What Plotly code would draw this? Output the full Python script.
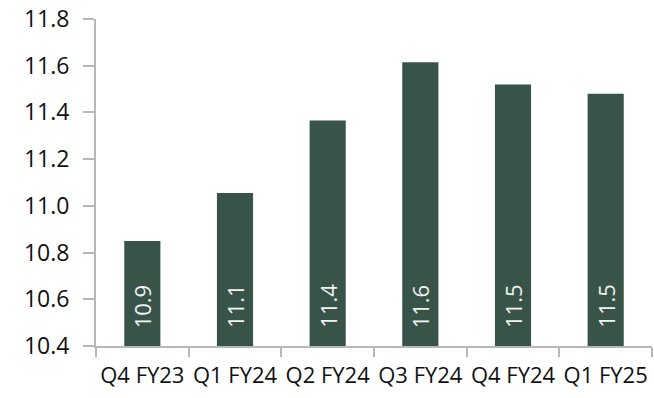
import plotly.graph_objects as go

categories = ["Q4 FY23", "Q1 FY24", "Q2 FY24", "Q3 FY24", "Q4 FY24", "Q1 FY25"]
values = [10.85, 11.055, 11.365, 11.615, 11.52, 11.48]
labels = ["10.9", "11.1", "11.4", "11.6", "11.5", "11.5"]

BAR = "#385448"
AXIS = "#B7B7B7"
TXT = "#111111"
FONT = "Open Sans"

fig = go.Figure()
fig.add_trace(go.Bar(x=categories, y=values, marker=dict(color=BAR, line=dict(width=0)),
                     hoverinfo="skip"))

for c, l in zip(categories, labels):
    fig.add_annotation(x=c, y=10.4, xref="x", yref="y", text=l, showarrow=False,
                       textangle=-90, yanchor="bottom", xanchor="center", yshift=16,
                       font=dict(family=FONT, size=22, color="#f2f2f2"))

fig.update_layout(
    width=654, height=398,
    margin=dict(l=96, r=2, t=19, b=52),
    paper_bgcolor="white", plot_bgcolor="white",
    bargap=0.61, showlegend=False,
    font=dict(family=FONT, color=TXT, size=22),
)
fig.update_xaxes(type="category", tickangle=0, ticks="outside", ticklen=9, tickcolor=AXIS,
                 tickwidth=2, tickson="boundaries", showline=True, linecolor=AXIS, linewidth=2,
                 showgrid=False, ticklabelstandoff=9,
                 tickfont=dict(family=FONT, size=22, color=TXT))
fig.update_yaxes(range=[10.4, 11.8], dtick=0.2, tick0=10.4, tickformat=".1f",
                 ticks="outside", ticklen=11, tickcolor=AXIS, tickwidth=2,
                 showline=True, linecolor=AXIS, linewidth=2, showgrid=False, zeroline=False,
                 ticklabelstandoff=9, tickfont=dict(family=FONT, size=23, color=TXT))

fig.write_html("out.html")
